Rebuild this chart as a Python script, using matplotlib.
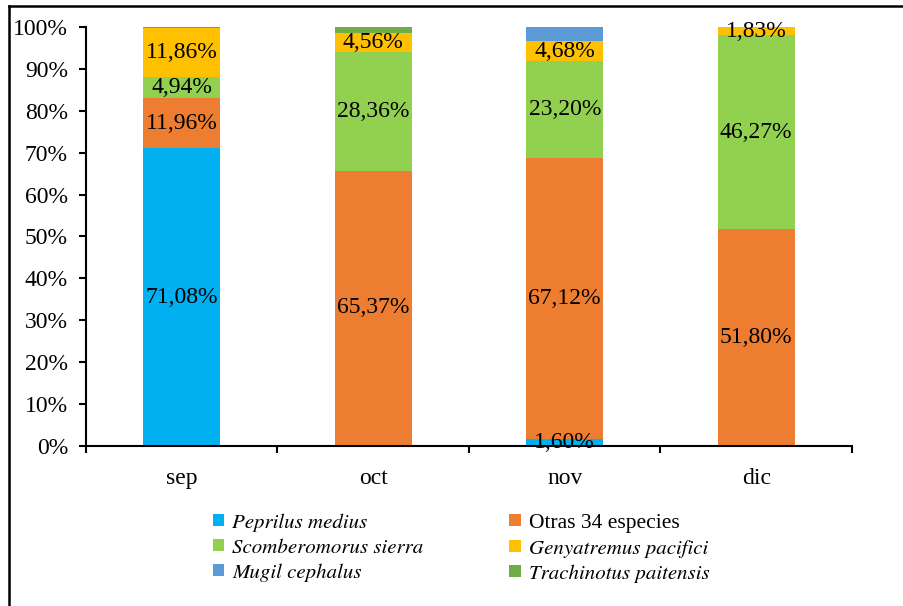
import matplotlib
matplotlib.use("Agg")
import matplotlib.pyplot as plt
from matplotlib.patches import Patch
from matplotlib.lines import Line2D
from matplotlib.font_manager import FontProperties
import numpy as np

months = ["sep", "oct", "nov", "dic"]
series_names = ["Peprilus medius", "Otras 34 especies", "Scomberomorus sierra",
                "Genyatremus pacifici", "Mugil cephalus", "Trachinotus paitensis"]
peprilus = [71.08, 0.26, 1.60, 0.0]
otras = [11.96, 65.37, 67.12, 51.80]
scomber = [4.94, 28.36, 23.20, 46.27]
genya = [11.86, 4.56, 4.68, 1.83]
mugil = [0.16, 0.0, 3.40, 0.0]
trachi = [0.0, 1.45, 0.0, 0.0]
yticks = [0, 10, 20, 30, 40, 50, 60, 70, 80, 90, 100]

values = [peprilus, otras, scomber, genya, mugil, trachi]
colors = ["#00B0F0", "#ED7D31", "#92D050", "#FFC000", "#5B9BD5", "#70AD47"]
labeled = [True, True, True, True, False, False]
italic = [True, False, True, True, True, True]

plt.rcParams['font.family'] = ['Liberation Serif', 'DejaVu Serif']

it_prop = FontProperties(family=["STIXGeneral", "Liberation Serif"], style="italic", size=15)
reg_prop = FontProperties(family="Liberation Serif", size=15.5)

fig = plt.figure(figsize=(9.04, 6.06), dpi=100)
ax = fig.add_axes([86/904, 1 - 446/606, (852-86)/904, (446-27)/606])

x = np.arange(len(months))
bottom = np.zeros(len(months))
for vals, col, lab in zip(values, colors, labeled):
    v = np.array(vals)
    ax.bar(x, v, 0.40, bottom=bottom, color=col, linewidth=0)
    if lab:
        for xi, b, val in zip(x, bottom, v):
            if val >= 1.5:
                ax.text(xi, b + val / 2, f"{val:.2f}".replace(".", ",") + "%",
                        ha="center", va="center", fontsize=17, color="black")
    bottom += v

ax.set_xlim(-0.5, 3.5)
ax.set_ylim(0, 100)
ax.set_yticks(yticks)
ax.set_yticklabels([f"{t}%" for t in yticks], fontsize=17)
ax.set_xticks([-0.5, 0.5, 1.5, 2.5, 3.5])
ax.set_xticklabels([])
ax.set_xticks(x, minor=True)
ax.set_xticklabels(months, minor=True, fontsize=17)
ax.tick_params(axis="x", which="major", direction="out", length=5, width=1.5)
ax.tick_params(axis="x", which="minor", length=0, pad=16)
ax.tick_params(axis="y", direction="out", length=5, width=1.5, pad=8)
for s in ["top", "right"]:
    ax.spines[s].set_visible(False)
for s in ["left", "bottom"]:
    ax.spines[s].set_linewidth(1.5)

handles = []
for name, col in zip(series_names, colors):
    handles.append(Patch(facecolor=col, edgecolor="none", label=name))
order = [0, 2, 4, 1, 3, 5]
leg = fig.legend([handles[i] for i in order], [series_names[i] for i in order],
                 ncol=2, loc="center", bbox_to_anchor=(461/904, 1 - 548/606),
                 frameon=False, prop=reg_prop,
                 handlelength=0.52, handleheight=0.52,
                 handletextpad=0.37, columnspacing=4.0, labelspacing=0.3)
for t, i in zip(leg.get_texts(), order):
    if italic[i]:
        t.set_fontproperties(it_prop)

# figure frame (partial border)
fig.add_artist(Line2D([9/904, 1], [1 - 6/606, 1 - 6/606], transform=fig.transFigure,
                      color="black", linewidth=1.8))
fig.add_artist(Line2D([9/904, 9/904], [0, 1 - 6/606], transform=fig.transFigure,
                      color="black", linewidth=1.8))

fig.savefig("out.png", dpi=100)
